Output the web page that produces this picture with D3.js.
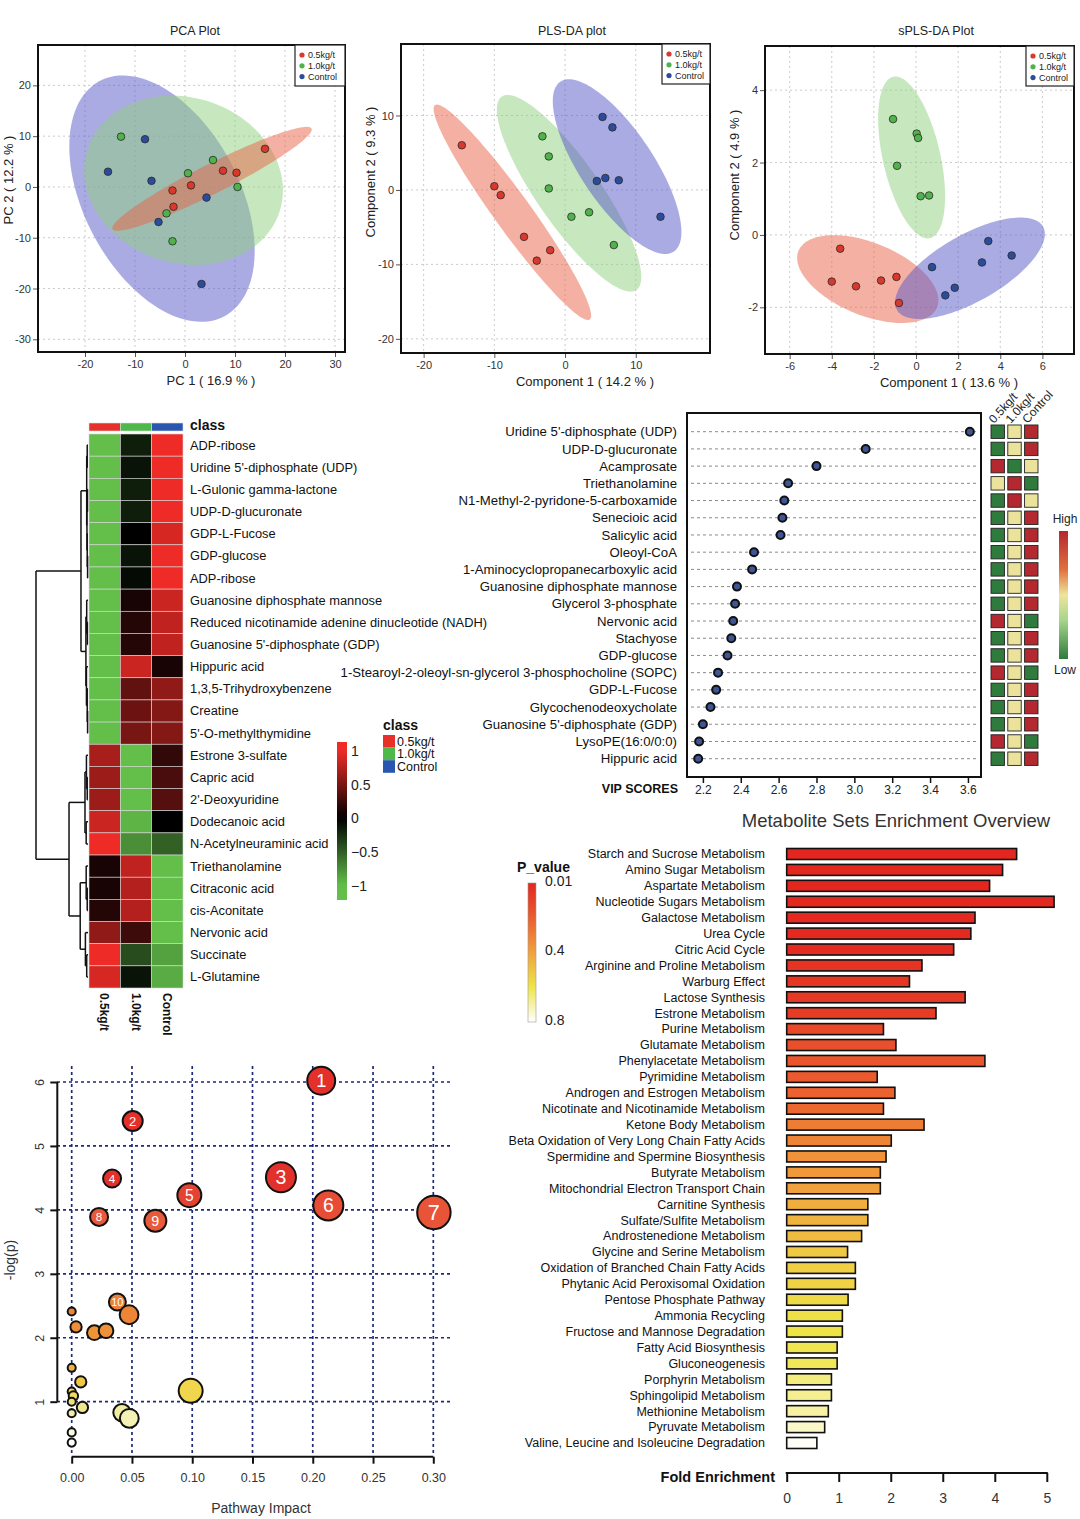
<!DOCTYPE html>
<html><head><meta charset="utf-8">
<script src="https://cdn.jsdelivr.net/npm/d3@7"></script>
<style>body{margin:0;background:#fff} text{font-family:"Liberation Sans",Arial,Helvetica,sans-serif}</style>
</head><body><svg id="c" width="1080" height="1519"></svg>
<script>
// ================= DATA =================
const groups = ["0.5kg/t", "1.0kg/t", "Control"];

// PCA scores [PC1, PC2]
const pcaRed   = [[-2.5,-0.7],[1.2,0.3],[-2.3,-3.9],[7.6,3.2],[10.3,2.8],[16,7.5]];
const pcaGreen = [[-12.8,9.9],[5.6,5.3],[0.6,2.7],[10.5,0],[-3.7,-5.2],[-2.5,-10.7]];
const pcaBlue  = [[-15.4,3],[-8,9.4],[-6.7,1.2],[4.3,-2.1],[-5.3,-6.9],[3.3,-19.1]];
const pcaEllRed   = {c:[5.4,1.6],  a:[19.9,9.9],   b:[1.3,-2.6]};
const pcaEllGreen = {c:[-0.3,1.3], a:[19.3,-5.9],  b:[-4.8,-15.6]};
const pcaEllBlue  = {c:[-4.6,-2.3],a:[12.6,-23.1], b:[13.6,7.4]};
const pcaXTicks = [-20,-10,0,10,20,30], pcaYTicks = [-30,-20,-10,0,10,20];

// PLS-DA scores
const plsRed   = [[-14.6,6.0],[-10,0.5],[-9.1,-0.7],[-5.8,-6.3],[-4,-9.5],[-2.1,-8.1]];
const plsGreen = [[-3.2,7.2],[-2.3,4.5],[-2.3,0.2],[0.9,-3.6],[3.4,-3.0],[6.9,-7.4]];
const plsBlue  = [[5.3,9.8],[6.7,8.4],[4.5,1.2],[5.7,1.6],[7.6,1.3],[13.5,-3.6]];
const plsEllRed   = {c:[-7.45,-3.0], a:[10.94,-14.4], b:[2.1,1.44]};
const plsEllGreen = {c:[0.57,-0.45], a:[9.53,-12.98], b:[3.68,2.42]};
const plsEllBlue  = {c:[7.36,3.13],  a:[8.02,-11.41], b:[4.29,2.73]};
const plsXTicks = [-20,-10,0,10], plsYTicks = [-20,-10,0,10];

// sPLS-DA scores
const splsRed   = [[-3.6,-0.38],[-4.0,-1.29],[-2.85,-1.42],[-1.66,-1.26],[-0.93,-1.16],[-0.81,-1.88]];
const splsGreen = [[-1.09,3.2],[0.03,2.8],[0.1,2.68],[-0.9,1.91],[0.22,1.07],[0.62,1.09]];
const splsBlue  = [[3.43,-0.17],[4.54,-0.57],[3.13,-0.76],[0.76,-0.89],[1.84,-1.46],[1.39,-1.67]];
const splsEllRed   = {c:[-2.29,-1.22], a:[3.29,-0.78], b:[-0.65,-0.93]};
const splsEllGreen = {c:[-0.21,2.14],  a:[0.87,-2.23], b:[1.33,0.175]};
const splsEllBlue  = {c:[2.56,-0.92],  a:[3.47,1.15],  b:[0.785,-0.80]};
const splsXTicks = [-6,-4,-2,0,2,4,6], splsYTicks = [-2,0,2,4];

// Heatmap
const heatRows = ["ADP-ribose","Uridine 5'-diphosphate (UDP)","L-Gulonic gamma-lactone","UDP-D-glucuronate","GDP-L-Fucose","GDP-glucose","ADP-ribose","Guanosine diphosphate mannose","Reduced nicotinamide adenine dinucleotide (NADH)","Guanosine 5'-diphosphate (GDP)","Hippuric acid","1,3,5-Trihydroxybenzene","Creatine","5'-O-methylthymidine","Estrone 3-sulfate","Capric acid","2'-Deoxyuridine","Dodecanoic acid","N-Acetylneuraminic acid","Triethanolamine","Citraconic acid","cis-Aconitate","Nervonic acid","Succinate","L-Glutamine"];
const heat05   = [-1,-1,-1,-1,-1,-1,-1,-1,-1,-1,-1,-1,-1,-1, 0.7,0.65,0.65,0.85,1, 0.1,0.1,0.15,0.6,1,0.9];
const heat10   = [-0.15,-0.1,-0.15,-0.15,0,-0.1,-0.05,0.1,0.15,0.15,0.85,0.4,0.45,0.5, -1,-1,-1,-0.95,-0.75, 0.8,0.75,0.75,0.25,-0.4,-0.1];
const heatCtrl = [1,1,1,1,0.9,1,1,0.85,0.8,0.8,0.1,0.6,0.55,0.55, 0.2,0.3,0.35,0,-0.5, -1,-1,-1,-1,-0.85,-0.9];
const heatLegendTicks = [1,0.5,0,-0.5,-1];
// Row dendrogram (leaf = row index, h = merge height)
const dendro = {h:1.0, c:[
  {h:0.135, c:[
    {h:0.025, c:[{h:0.015,c:[0,1]},{h:0.02,c:[{h:0.01,c:[2,3]},{h:0.015,c:[4,{h:0.008,c:[5,6]}]}]}]},
    {h:0.04, c:[{h:0.025,c:[7,{h:0.012,c:[8,9]}]},{h:0.03,c:[10,{h:0.015,c:[11,{h:0.008,c:[12,13]}]}]}]}
  ]},
  {h:0.365, c:[
    {h:0.058, c:[{h:0.03,c:[14,{h:0.015,c:[15,16]}]},{h:0.035,c:[17,18]}]},
    {h:0.15, c:[{h:0.035,c:[19,{h:0.015,c:[20,21]}]},{h:0.05,c:[22,{h:0.025,c:[23,24]}]}]}
  ]}
]};

// VIP scores
const vipNames = ["Uridine 5'-diphosphate (UDP)","UDP-D-glucuronate","Acamprosate","Triethanolamine","N1-Methyl-2-pyridone-5-carboxamide","Senecioic acid","Salicylic acid","Oleoyl-CoA","1-Aminocyclopropanecarboxylic acid","Guanosine diphosphate mannose","Glycerol 3-phosphate","Nervonic acid","Stachyose","GDP-glucose","1-Stearoyl-2-oleoyl-sn-glycerol 3-phosphocholine (SOPC)","GDP-L-Fucose","Glycochenodeoxycholate","Guanosine 5'-diphosphate (GDP)","LysoPE(16:0/0:0)","Hippuric acid"];
const vipScores = [3.61,3.06,2.80,2.65,2.63,2.62,2.61,2.47,2.46,2.38,2.37,2.36,2.35,2.33,2.28,2.27,2.24,2.20,2.18,2.175];
const vipLevel05   = [0,0,1,0.5,0,0,0,0,0,0,0,1,0,0,1,0,0,0,1,0];
const vipLevel10   = [0.5,0.5,0,1,1,0.5,0.5,0.5,0.5,0.5,0.5,0.5,0.5,0.5,0.5,0.5,0.5,0.5,0.5,0.5];
const vipLevelCtrl = [1,1,0.5,0,0.5,1,1,1,1,1,1,0,1,1,0,1,1,1,0,1];
const vipTicks = [2.2,2.4,2.6,2.8,3.0,3.2,3.4,3.6];

// Metabolite set enrichment
const pathways = ["Starch and Sucrose Metabolism","Amino Sugar Metabolism","Aspartate Metabolism","Nucleotide Sugars Metabolism","Galactose Metabolism","Urea Cycle","Citric Acid Cycle","Arginine and Proline Metabolism","Warburg Effect","Lactose Synthesis","Estrone Metabolism","Purine Metabolism","Glutamate Metabolism","Phenylacetate Metabolism","Pyrimidine Metabolism","Androgen and Estrogen Metabolism","Nicotinate and Nicotinamide Metabolism","Ketone Body Metabolism","Beta Oxidation of Very Long Chain Fatty Acids","Spermidine and Spermine Biosynthesis","Butyrate Metabolism","Mitochondrial Electron Transport Chain","Carnitine Synthesis","Sulfate/Sulfite Metabolism","Androstenedione Metabolism","Glycine and Serine Metabolism","Oxidation of Branched Chain Fatty Acids","Phytanic Acid Peroxisomal Oxidation","Pentose Phosphate Pathway","Ammonia Recycling","Fructose and Mannose Degradation","Fatty Acid Biosynthesis","Gluconeogenesis","Porphyrin Metabolism","Sphingolipid Metabolism","Methionine Metabolism","Pyruvate Metabolism","Valine, Leucine and Isoleucine Degradation"];
const foldEnrichment = [4.42,4.15,3.90,5.14,3.62,3.54,3.21,2.60,2.36,3.43,2.87,1.86,2.10,3.81,1.74,2.08,1.86,2.64,2.01,1.91,1.80,1.80,1.56,1.56,1.44,1.17,1.32,1.32,1.18,1.07,1.07,0.97,0.97,0.86,0.86,0.80,0.73,0.58];
const pValues = [0.010,0.012,0.015,0.018,0.022,0.026,0.03,0.06,0.07,0.08,0.09,0.14,0.16,0.18,0.2,0.22,0.24,0.3,0.32,0.36,0.38,0.4,0.44,0.46,0.48,0.52,0.54,0.55,0.57,0.59,0.6,0.61,0.62,0.66,0.68,0.7,0.74,0.79];
const foldTicks = [0,1,2,3,4,5];
const pLegendTicks = [0.01,0.4,0.8];

// Pathway impact bubbles
const impact = [0.207,0.0506,0.1736,0.0335,0.0976,0.2129,0.3005,0.0227,0.0694,0.0379,0.0476,0.0,0.0036,0.0188,0.0285,0.0,0.0075,0.0987,0.0,0.0014,0.0,0.0089,0.0,0.0417,0.0478,0.0,0.0];
const negLogP = [6.02,5.39,4.51,4.49,4.23,4.07,3.96,3.89,3.83,2.56,2.36,2.41,2.17,2.08,2.11,1.53,1.31,1.17,1.16,1.09,1.0,0.91,0.82,0.83,0.74,0.52,0.36];
const bubbleSize = [20.3,10.4,23.4,8.4,14.9,23.4,29,8.4,12.6,7.5,9.2,1.7,3.3,5.6,5.6,1.7,3.3,14.9,1.7,2.3,1.7,3.3,1.7,7.8,9.2,1.7,1.7];
const bubbleLabel = ["1","2","3","4","5","6","7","8","9","10","","","","","","","","","","","","","","","","",""];
const impactTicks = [0,0.05,0.10,0.15,0.20,0.25,0.30];
const logpTicks = [1,2,3,4,5,6];

// ================= DRAW =================
const svg = d3.select("#c");
svg.append("rect").attr("width",1080).attr("height",1519).attr("fill","#fff");
const defs = svg.append("defs");
const groupColor = {"0.5kg/t":"#d9382c","1.0kg/t":"#4fb24a","Control":"#2b4c9c"};
const ellFill = {"0.5kg/t":"#ea6448","1.0kg/t":"#90d080","Control":"#5858c8"};

function ellipsePath(e, x, y){
  const pts = d3.range(0,121).map(k=>{const t=k/120*2*Math.PI;
    return [e.c[0]+Math.cos(t)*e.a[0]+Math.sin(t)*e.b[0], e.c[1]+Math.cos(t)*e.a[1]+Math.sin(t)*e.b[1]];});
  return d3.line().x(d=>x(d[0])).y(d=>y(d[1]))(pts)+"Z";
}

function scatter(cfg){
  const f = cfg.f;
  const g = svg.append("g");
  const x = d3.scaleLinear(cfg.xDomain,[f.x0,f.x1]);
  const y = d3.scaleLinear(cfg.yDomain,[f.y1,f.y0]);
  defs.append("clipPath").attr("id","clip"+cfg.id).append("rect")
    .attr("x",f.x0).attr("y",f.y0).attr("width",f.x1-f.x0).attr("height",f.y1-f.y0);
  const inner = g.append("g").attr("clip-path",`url(#clip${cfg.id})`);
  inner.selectAll(null).data(cfg.xTicks).join("line")
    .attr("x1",d=>x(d)).attr("x2",d=>x(d)).attr("y1",f.y0).attr("y2",f.y1)
    .attr("stroke","#c4c4c4").attr("stroke-width",0.9).attr("stroke-dasharray","2,3");
  inner.selectAll(null).data(cfg.yTicks).join("line")
    .attr("y1",d=>y(d)).attr("y2",d=>y(d)).attr("x1",f.x0).attr("x2",f.x1)
    .attr("stroke","#c4c4c4").attr("stroke-width",0.9).attr("stroke-dasharray","2,3");
  cfg.ell.forEach((e,i)=>inner.append("path").attr("d",ellipsePath(e,x,y))
    .attr("fill",ellFill[cfg.ellOrder[i]]).attr("fill-opacity",0.5));
  cfg.series.forEach((s,i)=>inner.selectAll(null).data(s).join("circle")
    .attr("cx",d=>x(d[0])).attr("cy",d=>y(d[1])).attr("r",3.8)
    .attr("fill",groupColor[groups[i]]).attr("stroke","#2a2a2a").attr("stroke-width",0.8));
  g.append("rect").attr("x",f.x0).attr("y",f.y0).attr("width",f.x1-f.x0).attr("height",f.y1-f.y0)
    .attr("fill","none").attr("stroke","#111").attr("stroke-width",2);
  const ax = g.append("g").attr("transform",`translate(0,${f.y1+1})`)
    .call(d3.axisBottom(x).tickValues(cfg.xTicks).tickSize(4).tickPadding(3).tickFormat(d=>String(d)));
  const ay = g.append("g").attr("transform",`translate(${f.x0-1},0)`)
    .call(d3.axisLeft(y).tickValues(cfg.yTicks).tickSize(4).tickPadding(2).tickFormat(d=>String(d)));
  [ax,ay].forEach(a=>{a.select(".domain").remove();
    a.selectAll("text").attr("font-size",11).attr("fill","#333");
    a.selectAll("line").attr("stroke","#555");});
  g.append("text").attr("x",cfg.title[1]).attr("y",cfg.title[2]).attr("text-anchor","middle")
    .attr("font-size",12.5).attr("fill","#222").text(cfg.title[0]);
  g.append("text").attr("x",cfg.xl[1]).attr("y",cfg.xl[2]).attr("text-anchor","middle")
    .attr("font-size",13).attr("fill","#222").text(cfg.xl[0]);
  g.append("text").attr("transform",`translate(${cfg.yl[1]},${cfg.yl[2]}) rotate(-90)`).attr("text-anchor","middle")
    .attr("font-size",13).attr("fill","#222").text(cfg.yl[0]);
  const L = cfg.leg;
  g.append("rect").attr("x",L.x).attr("y",L.y).attr("width",L.w).attr("height",L.h)
    .attr("fill","#fff").attr("stroke","#222").attr("stroke-width",1.2);
  groups.forEach((gr,i)=>{
    g.append("circle").attr("cx",L.x+7).attr("cy",L.y+10+i*10.8).attr("r",2.6).attr("fill",groupColor[gr]);
    g.append("text").attr("x",L.x+13).attr("y",L.y+10+i*10.8).attr("dy","0.35em")
      .attr("font-size",9).attr("fill","#222").text(gr);
  });
}

scatter({id:"pca", f:{x0:38,x1:345,y0:45,y1:352}, xDomain:[-29.4,32], yDomain:[-32.5,27.95],
  xTicks:pcaXTicks, yTicks:pcaYTicks, series:[pcaRed,pcaGreen,pcaBlue],
  ell:[pcaEllBlue,pcaEllGreen,pcaEllRed], ellOrder:["Control","1.0kg/t","0.5kg/t"],
  title:["PCA Plot",195,35], xl:["PC 1 ( 16.9 % )",211,385], yl:["PC 2 ( 12.2 % )",13,180],
  leg:{x:295,y:45,w:50,h:41}});
scatter({id:"pls", f:{x0:401,x1:710,y0:44,y1:353}, xDomain:[-23.2,20.5], yDomain:[-21.9,19.6],
  xTicks:plsXTicks, yTicks:plsYTicks, series:[plsRed,plsGreen,plsBlue],
  ell:[plsEllRed,plsEllGreen,plsEllBlue], ellOrder:["0.5kg/t","1.0kg/t","Control"],
  title:["PLS-DA plot",572,35], xl:["Component 1 ( 14.2 % )",585,386], yl:["Component 2 ( 9.3 % )",375,172],
  leg:{x:662,y:44,w:48,h:40}});
scatter({id:"spls", f:{x0:765,x1:1074,y0:46,y1:354}, xDomain:[-7.17,7.5], yDomain:[-3.29,5.22],
  xTicks:splsXTicks, yTicks:splsYTicks, series:[splsRed,splsGreen,splsBlue],
  ell:[splsEllGreen,splsEllRed,splsEllBlue], ellOrder:["1.0kg/t","0.5kg/t","Control"],
  title:["sPLS-DA Plot",936,35], xl:["Component 1 ( 13.6 % )",949,387], yl:["Component 2 ( 4.9 % )",739,175],
  leg:{x:1026,y:46,w:48,h:40}});

// ---------- Heatmap ----------
(function(){
  const g = svg.append("g");
  const heatColor = d3.scaleLinear().domain([-1,0,1]).range(["#63bf4a","#000000","#ef2b27"]).clamp(true);
  const xb = d3.scaleBand().domain(groups).range([89,183]);
  const yb = d3.scaleBand().domain(d3.range(heatRows.length)).range([434,988]);
  const cols = [heat05,heat10,heatCtrl];
  cols.forEach((vals,j)=>{
    g.selectAll(null).data(vals).join("rect")
      .attr("x",xb(groups[j])).attr("y",(d,i)=>yb(i)).attr("width",xb.bandwidth()).attr("height",yb.bandwidth())
      .attr("fill",d=>heatColor(d)).attr("stroke","#d8d8d8").attr("stroke-width",0.6);
  });
  const classColor = {"0.5kg/t":"#e8302a","1.0kg/t":"#4fb84a","Control":"#2a56b0"};
  groups.forEach(gr=>g.append("rect").attr("x",xb(gr)).attr("y",423).attr("width",xb.bandwidth()).attr("height",8)
    .attr("fill",classColor[gr]).attr("stroke","#ddd").attr("stroke-width",0.6));
  g.append("text").attr("x",190).attr("y",425).attr("dy","0.35em").attr("font-size",14).attr("font-weight","bold").attr("fill","#111").text("class");
  g.selectAll(null).data(heatRows).join("text").attr("x",190).attr("y",(d,i)=>yb(i)+yb.bandwidth()/2).attr("dy","0.35em")
    .attr("font-size",12.85).attr("fill","#111").text(d=>d);
  groups.forEach(gr=>g.append("text").attr("transform",`translate(${xb(gr)+xb.bandwidth()/2},993) rotate(90)`)
    .attr("dy","0.35em").attr("font-size",12).attr("font-weight","bold").attr("fill","#111").text(gr));
  // dendrogram
  const hx = d3.scaleLinear([0,1],[88,36]);
  const dg = g.append("g").attr("stroke","#111").attr("stroke-width",1.5).attr("fill","none");
  function draw(n){
    if(typeof n === "number") return {y:yb(n)+yb.bandwidth()/2, x:hx(0)};
    const kids = n.c.map(draw);
    const xn = hx(n.h);
    kids.forEach(k=>dg.append("line").attr("x1",xn).attr("x2",k.x).attr("y1",k.y).attr("y2",k.y));
    dg.append("line").attr("x1",xn).attr("x2",xn).attr("y1",kids[0].y).attr("y2",kids[1].y);
    return {y:(kids[0].y+kids[1].y)/2, x:xn};
  }
  draw(dendro);
  // colour legend
  const ly = d3.scaleLinear([-1,1],[886,751]);
  const grad = defs.append("linearGradient").attr("id","heatGrad").attr("x1",0).attr("x2",0).attr("y1",0).attr("y2",1);
  const top = ly.invert(742), bot = ly.invert(900);
  d3.range(0,21).forEach(k=>{const v = top+(bot-top)*k/20;
    grad.append("stop").attr("offset",k/20).attr("stop-color",heatColor(v));});
  g.append("rect").attr("x",337).attr("y",742).attr("width",10).attr("height",158).attr("fill","url(#heatGrad)");
  g.selectAll(null).data(heatLegendTicks).join("text").attr("x",351).attr("y",d=>ly(d)).attr("dy","0.35em")
    .attr("font-size",14).attr("fill","#222").text(d=>d<0?"\u2212"+Math.abs(d):String(d));
  // class legend
  g.append("text").attr("x",383).attr("y",725).attr("dy","0.35em").attr("font-size",14).attr("font-weight","bold").attr("fill","#111").text("class");
  groups.forEach((gr,i)=>{
    g.append("rect").attr("x",383).attr("y",735+i*12.6).attr("width",12).attr("height",12.6)
      .attr("fill",classColor[gr]);
    g.append("text").attr("x",397).attr("y",741.3+i*12.6).attr("dy","0.35em").attr("font-size",12.5).attr("fill","#111").text(gr);
  });
})();

// ---------- VIP scores ----------
(function(){
  const g = svg.append("g");
  const f = {x0:687,x1:981,y0:413,y1:777};
  const x = d3.scaleLinear([2.116,3.669],[f.x0,f.x1]);
  const y = d3.scalePoint().domain(d3.range(vipNames.length)).range([431.7,758.7]);
  g.selectAll(null).data(vipNames).join("line").attr("x1",f.x0+4).attr("x2",f.x1-4)
    .attr("y1",(d,i)=>y(i)).attr("y2",(d,i)=>y(i)).attr("stroke","#8a8a8a").attr("stroke-width",1).attr("stroke-dasharray","3,3");
  g.selectAll(null).data(vipScores).join("circle").attr("cx",d=>x(d)).attr("cy",(d,i)=>y(i)).attr("r",4)
    .attr("fill","#3e5694").attr("stroke","#111").attr("stroke-width",2);
  g.append("rect").attr("x",f.x0).attr("y",f.y0).attr("width",f.x1-f.x0).attr("height",f.y1-f.y0)
    .attr("fill","none").attr("stroke","#111").attr("stroke-width",2);
  const ax = g.append("g").attr("transform",`translate(0,${f.y1+1})`)
    .call(d3.axisBottom(x).tickValues(vipTicks).tickSize(5).tickPadding(2).tickFormat(d3.format(".1f")));
  ax.select(".domain").remove();
  ax.selectAll("line").attr("stroke","#111").attr("stroke-width",1.5);
  ax.selectAll("text").attr("font-size",12).attr("fill","#222");
  g.selectAll(null).data(vipNames).join("text").attr("x",677).attr("y",(d,i)=>y(i)).attr("dy","0.35em")
    .attr("text-anchor","end").attr("font-size",13.2).attr("fill","#111").text(d=>d);
  g.append("text").attr("x",678).attr("y",789).attr("dy","0.35em").attr("text-anchor","end")
    .attr("font-size",12.5).attr("font-weight","bold").attr("fill","#111").text("VIP SCORES");
  const vipColor = d3.scaleLinear([0,0.5,1],["#2f7b3e","#ebe39b","#b3292f"]);
  const sx = d3.scaleBand().domain(groups).range([991,1038]).paddingInner(0.2);
  [vipLevel05,vipLevel10,vipLevelCtrl].forEach((lv,j)=>{
    g.selectAll(null).data(lv).join("rect").attr("x",sx(groups[j])).attr("y",(d,i)=>y(i)-sx.bandwidth()/2)
      .attr("width",sx.bandwidth()).attr("height",sx.bandwidth()).attr("fill",d=>vipColor(d))
      .attr("stroke","#222").attr("stroke-width",0.9);
    g.append("text").attr("transform",`translate(${sx(groups[j])+3},${424}) rotate(-48)`)
      .attr("font-size",12).attr("fill","#222").text(groups[j]);
  });
  const vg = defs.append("linearGradient").attr("id","vipGrad").attr("x1",0).attr("x2",0).attr("y1",0).attr("y2",1);
  [[0,"#b3292f"],[0.3,"#e0703e"],[0.5,"#efe49c"],[0.7,"#a6d58a"],[1,"#2f7b3e"]].forEach(s=>vg.append("stop").attr("offset",s[0]).attr("stop-color",s[1]));
  g.append("rect").attr("x",1059).attr("y",531).attr("width",9).attr("height",128).attr("fill","url(#vipGrad)");
  g.append("text").attr("x",1065).attr("y",519).attr("dy","0.35em").attr("text-anchor","middle").attr("font-size",12).attr("fill","#222").text("High");
  g.append("text").attr("x",1065).attr("y",670).attr("dy","0.35em").attr("text-anchor","middle").attr("font-size",12).attr("fill","#222").text("Low");
})();

// ---------- Enrichment overview ----------
(function(){
  const g = svg.append("g");
  const x = d3.scaleLinear([0,5],[786.7,1046.8]);
  const y = d3.scalePoint().domain(d3.range(pathways.length)).range([854,1443]);
  const pColor = d3.scaleLinear([0.01,0.2,0.4,0.6,0.8],["#e3261f","#ea5a2e","#f0a03c","#eee448","#ffffff"]).clamp(true);
  g.append("text").attr("x",896).attr("y",821).attr("dy","0.35em").attr("text-anchor","middle")
    .attr("font-size",18.5).attr("fill","#333").text("Metabolite Sets Enrichment Overview");
  g.selectAll(null).data(foldEnrichment).join("rect").attr("x",x(0)).attr("y",(d,i)=>y(i)-5.5)
    .attr("width",d=>x(d)-x(0)).attr("height",11).attr("fill",(d,i)=>pColor(pValues[i]))
    .attr("stroke","#111").attr("stroke-width",1.6);
  g.selectAll(null).data(pathways).join("text").attr("x",765).attr("y",(d,i)=>y(i)).attr("dy","0.35em")
    .attr("text-anchor","end").attr("font-size",12.5).attr("fill","#111").text(d=>d);
  const ax = g.append("g").attr("transform","translate(0,1473)")
    .call(d3.axisBottom(x).tickValues(foldTicks).tickSize(9).tickPadding(11).tickFormat(d3.format("d")));
  ax.select(".domain").attr("d",`M${x(0)},1V0H${x(5)}V1`).attr("stroke","#111").attr("stroke-width",2);
  ax.selectAll("line").attr("stroke","#111").attr("stroke-width",2);
  ax.selectAll("text").attr("font-size",14).attr("fill","#333");
  g.append("text").attr("x",775).attr("y",1477).attr("dy","0.35em").attr("text-anchor","end")
    .attr("font-size",14.5).attr("font-weight","bold").attr("fill","#111").text("Fold Enrichment");
  // p-value legend
  const ly = d3.scaleLinear([0.01,0.8],[883,1022]);
  const pg = defs.append("linearGradient").attr("id","pGrad").attr("x1",0).attr("x2",0).attr("y1",0).attr("y2",1);
  d3.range(0,21).forEach(k=>pg.append("stop").attr("offset",k/20).attr("stop-color",pColor(0.01+0.79*k/20)));
  g.append("rect").attr("x",528).attr("y",883).attr("width",8).attr("height",139).attr("fill","url(#pGrad)")
    .attr("stroke","#999").attr("stroke-width",0.6);
  g.append("text").attr("x",517).attr("y",867).attr("dy","0.35em").attr("font-size",14).attr("font-weight","bold").attr("fill","#111").text("P_value");
  g.selectAll(null).data(pLegendTicks).join("text").attr("x",545).attr("y",d=>ly(d)-2).attr("dy","0.35em")
    .attr("font-size",14).attr("fill","#222").text(d=>String(d));
})();

// ---------- Pathway impact bubble plot ----------
(function(){
  const g = svg.append("g");
  const x = d3.scaleLinear([0,0.30],[71.7,433.3]);
  const y = d3.scaleLinear([1,6],[1401.7,1082]);
  const r = d3.scaleSqrt([0,30],[0,17]);
  const bColor = d3.scaleLinear([0.36,0.8,1.2,1.55,2.3,3.9,4.5],["#ffffff","#f1efa8","#f0d444","#efb040","#ec8836","#e8583a","#e3302a"]).clamp(true);
  const grid = g.append("g").attr("stroke","#1f2a7a").attr("stroke-width",1.7).attr("stroke-dasharray","3,3");
  grid.selectAll(null).data(impactTicks).join("line").attr("x1",d=>x(d)).attr("x2",d=>x(d)).attr("y1",1066).attr("y2",1456);
  grid.selectAll(null).data(logpTicks).join("line").attr("y1",d=>y(d)).attr("y2",d=>y(d)).attr("x1",57).attr("x2",450);
  const ax = g.append("g").attr("transform","translate(0,1456.7)")
    .call(d3.axisBottom(x).tickValues(impactTicks).tickSize(7).tickPadding(9).tickFormat(d3.format(".2f")));
  ax.select(".domain").attr("d",`M${x(0)},0H${x(0.30)}`).attr("stroke","#111").attr("stroke-width",2);
  const ay = g.append("g").attr("transform","translate(57.3,0)")
    .call(d3.axisLeft(y).tickValues(logpTicks).tickSize(7).tickPadding(10).tickFormat(d3.format("d")));
  ay.select(".domain").attr("d",`M0,${y(6)}V${y(1)}`).attr("stroke","#111").attr("stroke-width",2);
  [ax,ay].forEach(a=>{a.selectAll("line").attr("stroke","#111").attr("stroke-width",2);
    a.selectAll("text").attr("font-size",12.5).attr("fill","#333");});
  ay.selectAll(".tick text").attr("transform","rotate(-90)").attr("x",0).attr("y",-18).attr("dy","0.35em").attr("text-anchor","middle");
  const idx = d3.range(impact.length);
  g.selectAll(null).data(idx).join("circle").attr("cx",i=>x(impact[i])).attr("cy",i=>y(negLogP[i]))
    .attr("r",i=>r(bubbleSize[i])).attr("fill",i=>bColor(negLogP[i])).attr("stroke","#111").attr("stroke-width",2);
  g.selectAll(null).data(idx.filter(i=>bubbleLabel[i])).join("text").attr("x",i=>x(impact[i])).attr("y",i=>y(negLogP[i]))
    .attr("dy","0.36em").attr("text-anchor","middle").attr("fill","#fff")
    .attr("font-size",i=>Math.max(11,r(bubbleSize[i])*1.3)).text(i=>bubbleLabel[i]);
  g.append("text").attr("x",261).attr("y",1508).attr("dy","0.35em").attr("text-anchor","middle")
    .attr("font-size",14).attr("fill","#333").text("Pathway Impact");
  g.append("text").attr("transform","translate(10,1260) rotate(-90)").attr("dy","0.35em").attr("text-anchor","middle")
    .attr("font-size",14).attr("fill","#333").text("-log(p)");
})();
</script></body></html>
